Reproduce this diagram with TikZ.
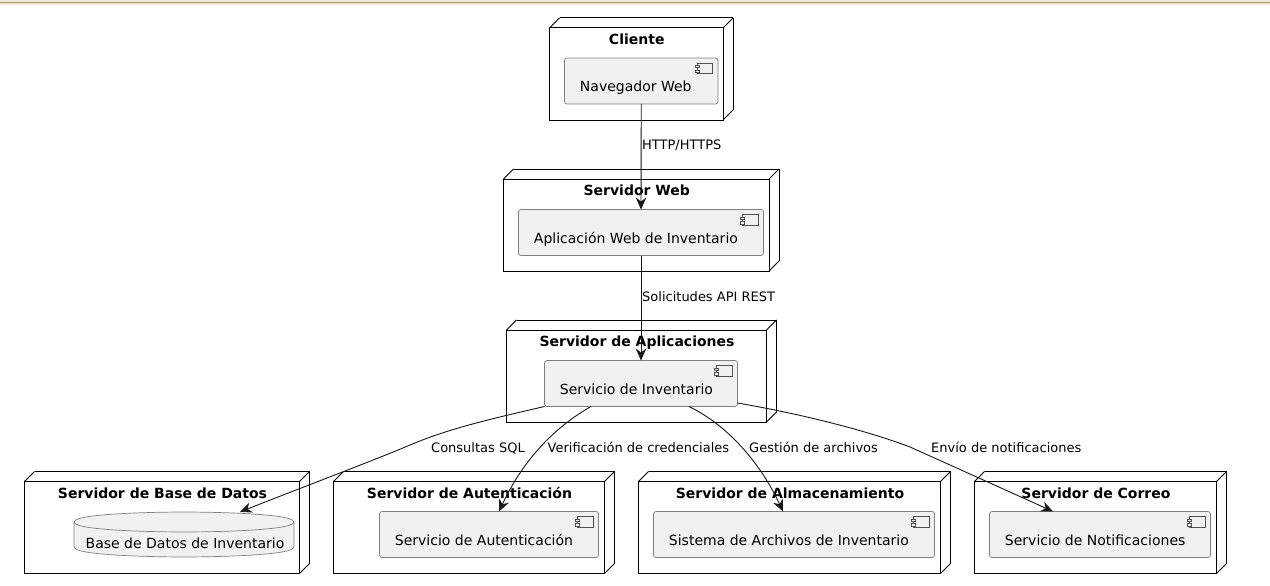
\documentclass[tikz,border=0pt]{standalone}
\usepackage{fontspec}
\setmainfont{DejaVu Sans}
\usetikzlibrary{arrows.meta,backgrounds}
\definecolor{fondoComp}{HTML}{F1F1F1}
\definecolor{bordeComp}{HTML}{7E7E7E}
\definecolor{linea}{HTML}{181818}
\definecolor{bandaClara}{HTML}{EFE9D2}
\definecolor{bandaOscura}{HTML}{A89D78}
\tikzset{
   servidor/.style={draw=black, line width=1pt, outer sep=0pt, inner sep=0pt,
                    append after command={
                      (\tikzlastnode.north west) edge[line width=0.8pt,-] ++(10,-10)
                      (\tikzlastnode.north east) edge[line width=0.8pt,-] ++(10,-10)
                      (\tikzlastnode.south east) edge[line width=0.8pt,-] ++(10,-10)
                      ([shift={(10pt,10pt)}]\tikzlastnode.north west) edge[line width=1pt,-] ([shift={(10pt,10pt)}]\tikzlastnode.north east)
                      ([shift={(10pt,10pt)}]\tikzlastnode.north east) edge[line width=1pt,-] ([shift={(10pt,10pt)}]\tikzlastnode.south east)
                    }},
   componente/.style={draw=bordeComp, fill=fondoComp, line width=0.7pt, rounded corners=2.5pt, outer sep=0pt, inner sep=0pt, minimum height=46pt},
   icono/.style={draw=linea!75, line width=0.6pt, fill=fondoComp},
   titulo/.style={font=\fontsize{14}{16}\selectfont\bfseries, anchor=base, inner sep=0pt},
   texto/.style={font=\fontsize{14}{16}\selectfont, anchor=base west, inner sep=0pt},
   rotulo/.style={font=\fontsize{13}{15}\selectfont, anchor=base west, inner sep=0pt},
   flecha/.style={draw=linea, line width=0.9pt, -{Stealth[length=12pt,width=10.5pt,inset=4pt]}}
}
\begin{document}
\begin{tikzpicture}[x=1pt,y=-1pt]
\useasboundingbox (0,0) rectangle (1270,586);
\fill[bandaClara] (0,0) rectangle (1270,5);
\fill[bandaOscura] (0,2) rectangle (1270,3.5);

\foreach \N/\X/\Y/\W/\T in {cli/636.25/74/173.5/Cliente,web/636.25/225/265.5/Servidor Web,apl/636.5/376/260/Servidor de Aplicaciones,sbd/162/527.5/275/Servidor de Base de Datos,aut/469/527.5/271/Servidor de Autenticación,alm/789.5/527.5/302/Servidor de Almacenamiento,cor/1095.5/527.5/242/Servidor de Correo}{
	\node[servidor,minimum width=\W pt,minimum height=92pt] (\N) at (\X,\Y) {};
	\node[titulo] (\N Tit) at ([shift={(0.5pt,-16.5pt)}]\N.north) {\T};
}

\foreach \N/\X/\Y/\W/\T in {nav/641.25/81/153.5/Navegador Web,apw/641/232.5/245/Aplicación Web de Inventario,inv/641/383.5/193/Servicio de Inventario,sau/489/534.5/219/Servicio de Autenticación,sar/794/534.5/281/Sistema de Archivos de Inventario,sno/1100/534.5/221/Servicio de Notificaciones}{
	\node[componente,minimum width=\W pt] (\N) at (\X,\Y) {};
	\node[texto] (\N Txt) at ([shift={(15.25pt,-33.5pt)}]\N.north west) {\T};
	\draw[icono] ([shift={(-21pt,-5pt)}]\N.north east) rectangle ([shift={(-5.5pt,-15.5pt)}]\N.north east);
	\draw[icono] ([shift={(-23pt,-7.5pt)}]\N.north east) rectangle ([shift={(-19pt,-9.8pt)}]\N.north east);
	\draw[icono] ([shift={(-23pt,-12.2pt)}]\N.north east) rectangle ([shift={(-19pt,-14.5pt)}]\N.north east);
}

\node[minimum width=220pt,minimum height=45pt,inner sep=0pt,outer sep=0pt] (bd) at (184,534.5) {};
\node[texto] (bdTxt) at ([shift={(11.5pt,-36.5pt)}]bd.north west) {Base de Datos de Inventario};
\begin{scope}[on background layer]
\draw[componente,rounded corners=0pt] (bd.west |- 0,522) .. controls (bd.west |- 0,512) and (bd.north) .. (bd.north)
	.. controls (bd.north) and (bd.east |- 0,512) .. (bd.east |- 0,522) -- (bd.east |- 0,547)
	.. controls (bd.east |- 0,557) and (bd.south) .. (bd.south)
	.. controls (bd.south) and (bd.west |- 0,557) .. (bd.west |- 0,547) -- cycle;
\draw[draw=bordeComp,line width=0.7pt] (bd.west |- 0,522) .. controls (bd.west |- 0,532) and (bd.center |- 0,532) .. (bd.center |- 0,532)
	.. controls (bd.center |- 0,532) and (bd.east |- 0,532) .. (bd.east |- 0,522);
\end{scope}

\draw[flecha] (nav.south) -- (apw.north);
\draw[flecha] (apw.south) -- (inv.north);
\draw[flecha] (inv.south west) .. controls (495,418) and (450,428) .. (410,445) .. controls (375,460) and (290,492) .. ([xshift=56pt]bd.north);
\draw[flecha] ([xshift=-50pt]inv.south) .. controls (553,428) and (522,462) .. ([xshift=10pt]sau.north);
\draw[flecha] ([xshift=48pt]inv.south) .. controls (727,425) and (760,462) .. ([xshift=-11pt]sar.north);
\draw[flecha] ([yshift=-19.5pt]inv.east) .. controls (790,412) and (860,428) .. (910,447) .. controls (950,465) and (1010,492) .. ([xshift=-47pt]sno.north);

\node[rotulo] (lblHttp) at (642,149) {HTTP/HTTPS};
\node[rotulo] (lblApi) at (642,301) {Solicitudes API REST};
\node[rotulo] (lblSql) at (431,452) {Consultas SQL};
\node[rotulo] (lblCred) at (547.5,452) {Verificación de credenciales};
\node[rotulo] (lblArch) at (749,452) {Gestión de archivos};
\node[rotulo] (lblNoti) at (931,452) {Envío de notificaciones};
\end{tikzpicture}
\end{document}
